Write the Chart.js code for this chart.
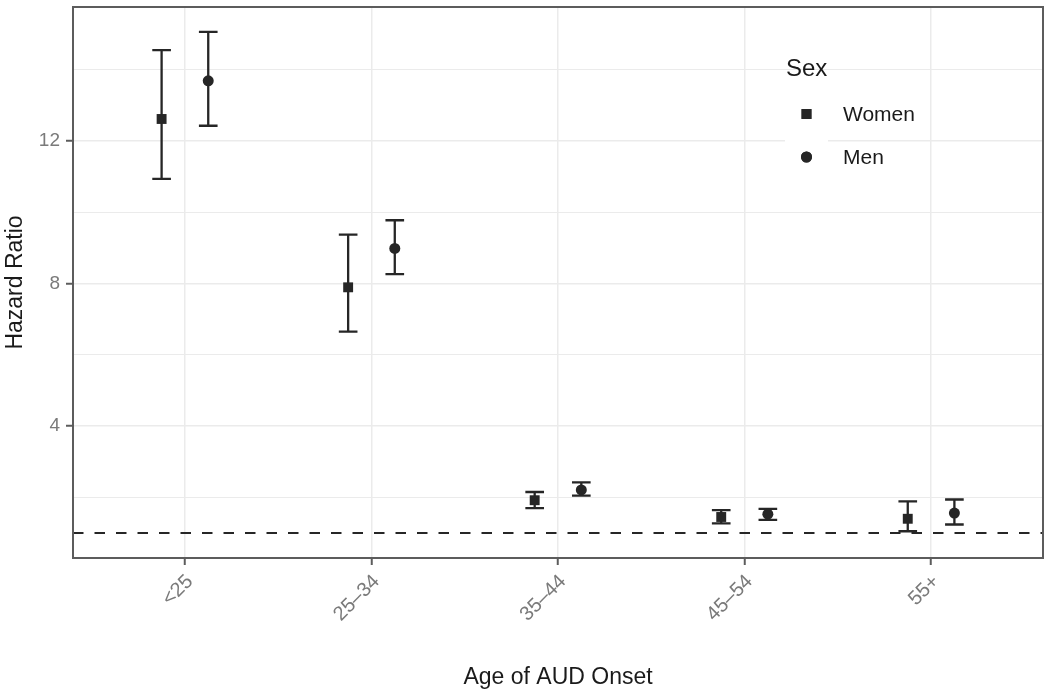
<!DOCTYPE html>
<html>
<head>
<meta charset="utf-8">
<script src="https://cdn.jsdelivr.net/npm/chart.js@4/dist/chart.umd.min.js"></script>
<style>
  html, body { margin: 0; padding: 0; background: #ffffff; }
  #wrap { width: 1050px; height: 695px; }
</style>
</head>
<body>
<div id="wrap"><canvas id="c" width="1050" height="695"></canvas></div>
<script>
// ---- data ----
const categories = ["<25", "25\u201334", "35\u201344", "45\u201354", "55+"];
const seriesNames = ["Women", "Men"];
const womenHR = [12.61, 7.89, 1.92, 1.45, 1.40];
const womenLo = [10.93, 6.65, 1.70, 1.27, 1.05];
const womenHi = [14.54, 9.37, 2.15, 1.64, 1.89];
const menHR   = [13.68, 8.98, 2.21, 1.53, 1.56];
const menLo   = [12.42, 8.26, 2.05, 1.37, 1.24];
const menHi   = [15.05, 9.77, 2.42, 1.68, 1.94];
const refValue = 1;
const yMajorTicks = [4, 8, 12];
const yMinorTicks = [2, 6, 10, 14];

// ---- layout constants ----
const DODGE = 0.125;
const CAP_HALF = 0.05;
const X_MIN = 0.4, X_MAX = categories.length + 0.6;
const Y_MIN = 0.3, Y_MAX = 15.75;
const INK = '#262626';
const GRID = '#ebebeb';
const FONT = "'Liberation Sans', Arial, Helvetica, sans-serif";

function pts(vals, lo, hi, off) {
  return vals.map((v, i) => ({ x: i + 1 + off, y: v, lo: lo[i], hi: hi[i] }));
}

const errorBarPlugin = {
  id: 'errorBars',
  beforeDatasetsDraw(chart) {
    const { ctx, scales: { x, y } } = chart;
    ctx.save();
    ctx.strokeStyle = INK;
    ctx.lineWidth = 2.3;
    ctx.lineCap = 'butt';
    chart.data.datasets.forEach((ds) => {
      if (!ds.errorBars) return;
      ds.data.forEach((p) => {
        const px = x.getPixelForValue(p.x);
        const xl = x.getPixelForValue(p.x - CAP_HALF);
        const xr = x.getPixelForValue(p.x + CAP_HALF);
        const yl = y.getPixelForValue(p.lo);
        const yh = y.getPixelForValue(p.hi);
        ctx.beginPath();
        ctx.moveTo(px, yl); ctx.lineTo(px, yh);
        ctx.moveTo(xl, yl); ctx.lineTo(xr, yl);
        ctx.moveTo(xl, yh); ctx.lineTo(xr, yh);
        ctx.stroke();
      });
    });
    ctx.restore();
  }
};

const panelPlugin = {
  id: 'panel',
  afterDraw(chart) {
    const { ctx, chartArea: a } = chart;
    ctx.save();
    ctx.strokeStyle = '#5c5c5c';
    ctx.lineWidth = 2;
    ctx.strokeRect(a.left, a.top, a.right - a.left, a.bottom - a.top);
    ctx.restore();
  }
};

const legendPlugin = {
  id: 'sexLegend',
  afterDatasetsDraw(chart) {
    const { ctx } = chart;
    const kx = 785, kw = 43, ky = 92.5, kh = 43;
    ctx.save();
    ctx.fillStyle = '#ffffff';
    ctx.fillRect(kx, ky, kw, kh * 2);
    ctx.fillStyle = '#1a1a1a';
    ctx.font = "24px " + FONT;
    ctx.textBaseline = 'middle';
    ctx.textAlign = 'left';
    ctx.fillText('Sex', 786, 69);
    ctx.font = "21px " + FONT;
    const styles = ['rect', 'circle'];
    const radii = [7, 5.5];
    seriesNames.forEach((name, i) => {
      const cy = ky + kh * i + kh / 2;
      ctx.fillStyle = INK;
      Chart.helpers.drawPoint(ctx, { pointStyle: styles[i], radius: radii[i], borderWidth: 0 }, kx + kw / 2, cy);
      ctx.fill();
      ctx.fillStyle = '#1a1a1a';
      ctx.fillText(name, 843, cy + 1);
    });
    ctx.restore();
  }
};

new Chart(document.getElementById('c'), {
  type: 'scatter',
  data: {
    datasets: [
      {
        label: 'ref',
        type: 'line',
        data: [{ x: X_MIN, y: refValue }, { x: X_MAX, y: refValue }],
        borderColor: INK,
        borderWidth: 2,
        borderDash: [10.5, 11],
        pointRadius: 0,
        fill: false,
        order: 3
      },
      {
        label: seriesNames[0],
        data: pts(womenHR, womenLo, womenHi, -DODGE),
        errorBars: true,
        pointStyle: 'rect',
        pointRadius: 7,
        pointBorderWidth: 0,
        backgroundColor: INK,
        borderColor: INK,
        order: 1
      },
      {
        label: seriesNames[1],
        data: pts(menHR, menLo, menHi, DODGE),
        errorBars: true,
        pointStyle: 'circle',
        pointRadius: 5.5,
        pointBorderWidth: 0,
        backgroundColor: INK,
        borderColor: INK,
        order: 2
      }
    ]
  },
  options: {
    responsive: false,
    devicePixelRatio: 1,
    animation: false,
    layout: { padding: { top: 6, right: 3, bottom: 0, left: 0 } },
    plugins: {
      legend: { display: false },
      tooltip: { enabled: false },
      title: { display: false }
    },
    scales: {
      x: {
        type: 'linear',
        min: X_MIN,
        max: X_MAX,
        afterBuildTicks(scale) {
          scale.ticks = categories.map((c, i) => ({ value: i + 1 }));
        },
        afterFit(scale) {
          scale.height = 137;
          scale.paddingLeft = 0;
          scale.paddingRight = 0;
        },
        ticks: {
          autoSkip: false,
          minRotation: 45,
          maxRotation: 45,
          padding: 5,
          labelOffset: 5,
          color: '#7a7a7a',
          font: { family: FONT, size: 20 },
          callback: (v) => categories[Math.round(v) - 1]
        },
        grid: {
          color: GRID,
          lineWidth: 1.5,
          tickLength: 7,
          tickColor: '#5c5c5c',
          tickWidth: 2
        },
        border: { display: false },
        title: {
          display: true,
          text: 'Age of AUD Onset',
          color: '#1a1a1a',
          font: { family: FONT, size: 23 },
          padding: { top: 0, bottom: 4 }
        }
      },
      y: {
        type: 'linear',
        min: Y_MIN,
        max: Y_MAX,
        afterBuildTicks(scale) {
          scale.ticks = yMinorTicks.concat(yMajorTicks).sort((a, b) => a - b).map(v => ({ value: v }));
        },
        afterFit(scale) {
          scale.width = 73;
          scale.paddingTop = 0;
          scale.paddingBottom = 0;
        },
        ticks: {
          autoSkip: false,
          padding: 6,
          color: '#7a7a7a',
          font: { family: FONT, size: 19 },
          callback: (v) => (yMajorTicks.includes(v) ? String(v) : '')
        },
        grid: {
          color: GRID,
          lineWidth: (c) => (c.tick && yMajorTicks.includes(c.tick.value) ? 1.5 : 1),
          tickLength: 7,
          tickColor: (c) => (c.tick && yMajorTicks.includes(c.tick.value) ? '#5c5c5c' : 'rgba(0,0,0,0)'),
          tickWidth: 2
        },
        border: { display: false },
        title: {
          display: true,
          text: 'Hazard Ratio',
          color: '#1a1a1a',
          font: { family: FONT, size: 23 },
          padding: { top: 2, bottom: 0 }
        }
      }
    }
  },
  plugins: [errorBarPlugin, panelPlugin, legendPlugin]
});
</script>
</body>
</html>
